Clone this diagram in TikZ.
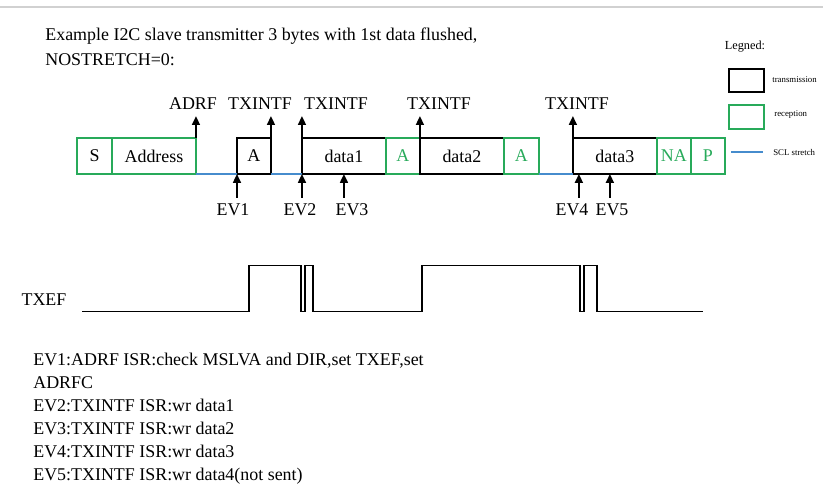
\documentclass[tikz,border=0pt]{standalone}
\usepackage{fontspec}
\setmainfont{Liberation Serif}
\usepackage{xcolor}
\usetikzlibrary{positioning, arrows.meta}
\definecolor{rxgreen}{RGB}{40,170,90}
\definecolor{sclblue}{RGB}{70,140,205}

\begin{document}
\begin{tikzpicture}[x=0.02cm, y=-0.02cm,
    every node/.style={font=\fontsize{10.2}{12}\selectfont},
    txbox/.style={draw, line width=0.9pt, minimum height=0.72cm, inner sep=0pt, outer sep=0pt},
    rxbox/.style={txbox, draw=rxgreen},
    rxtext/.style={rxbox, text=rxgreen},
    flag/.style={-{Triangle[length=5pt,width=4.5pt]}, line width=0.9pt},
    stretch/.style={sclblue, line width=0.9pt},
    legtext/.style={font=\fontsize{5}{6}\selectfont, anchor=west, inner sep=0pt},
    plain/.style={anchor=base west, inner sep=0pt},
    node distance=0pt]
    \useasboundingbox (0,0) rectangle (823,484);
    \draw[black!18, line width=0.6pt] (0,7) -- (823,7);

    % title
    \node[plain] (title1) at (45,40) {Example I2C slave transmitter 3 bytes with 1st data flushed,};
    \node[plain] (title2) at (45,65) {NOSTRETCH=0:};

    % frame
    \node[rxbox, minimum width=0.70cm, anchor=west] (s) at (77,156) {S};
    \node[rxbox, minimum width=1.68cm, right=of s] (addr) {Address};
    \node[txbox, minimum width=0.68cm, right=0.82cm of addr] (a1) {A};
    \node[txbox, minimum width=1.68cm, right=0.62cm of a1] (d1) {data1};
    \node[rxtext, minimum width=0.68cm, right=of d1] (a2) {A};
    \node[txbox, minimum width=1.68cm, right=of a2] (d2) {data2};
    \node[rxtext, minimum width=0.70cm, right=of d2] (a3) {A};
    \node[txbox, minimum width=1.68cm, right=0.68cm of a3] (d3) {data3};
    \node[rxtext, minimum width=0.68cm, right=of d3] (na) {NA};
    \node[rxtext, minimum width=0.68cm, right=of na] (p) {P};

    % SCL stretch
    \draw[stretch] (addr.south east) -- (a1.south west);
    \draw[stretch] (a1.south east) -- (d1.south west);
    \draw[stretch] (a3.south east) -- (d3.south west);

    % flags
    \node (adrf) at (193,104) {ADRF};
    \node (tx1) at (260,104) {TXINTF};
    \node (tx2) at (336,104) {TXINTF};
    \node (tx3) at (439,104) {TXINTF};
    \node (tx4) at (577,104) {TXINTF};
    \draw[flag] (addr.north east) -- (addr.north east |- adrf.south);
    \draw[flag] (a1.north east) -- (a1.north east |- tx1.south);
    \draw[flag] (d1.north west) -- (d1.north west |- tx2.south);
    \draw[flag] (d2.north west) -- (d2.north west |- tx3.south);
    \draw[flag] (d3.north west) -- (d3.north west |- tx4.south);

    % events
    \node (ev1) at (233,210) {EV1};
    \node (ev2) at (300,210) {EV2};
    \node (ev3) at (352,210) {EV3};
    \node (ev4) at (572,210) {EV4};
    \node (ev5) at (612,210) {EV5};
    \coordinate (ev4pt) at ([xshift=0.12cm]d3.south west);
    \coordinate (ev5pt) at ([xshift=-0.1cm]d3.south);
    \draw[flag] (ev1.north -| a1.south west) -- (a1.south west);
    \draw[flag] (ev2.north -| d1.south west) -- (d1.south west);
    \draw[flag] (ev3.north -| d1.south) -- (d1.south);
    \draw[flag] (ev4.north -| ev4pt) -- (ev4pt);
    \draw[flag] (ev5.north -| ev5pt) -- (ev5pt);

    % TXEF
    \node (txef) at (44,300) {TXEF};
    \draw[line width=0.9pt] (82,311.7) -| (249,265.7) -| (301,311.7) -| (305,265.7) -| (313,311.7)
        -| (422,265.7) -| (580,311.7) -| (584,265.7) -| (597,311.7) -- (703,311.7);

    % legend
    \node[font=\fontsize{7}{8}\selectfont] (legend) at (745,47) {Legned:};
    \node[txbox, minimum width=0.70cm, minimum height=0.46cm] (legtx) at (746.5,80.5) {};
    \node[rxbox, minimum width=0.70cm, minimum height=0.48cm] (legrx) at (746.5,117) {};
    \coordinate (legs1) at (731,152);
    \coordinate (legs2) at (763,152);
    \draw[stretch] (legs1) -- (legs2);
    \node[legtext] (legtxt) at (772,80) {transmission};
    \node[legtext] (legrxt) at (774,115) {reception};
    \node[legtext] (legsclt) at (773,152) {SCL stretch};

    % notes
    \foreach \t [count=\n] in {{EV1:ADRF ISR:check MSLVA and DIR,set TXEF,set}, ADRFC,
        EV2:TXINTF ISR:wr data1, EV3:TXINTF ISR:wr data2, EV4:TXINTF ISR:wr data3,
        EV5:TXINTF ISR:wr data4(not sent)}
        \node[plain] (note\n) at (33,342+23*\n) {\t};
\end{tikzpicture}
\end{document}
